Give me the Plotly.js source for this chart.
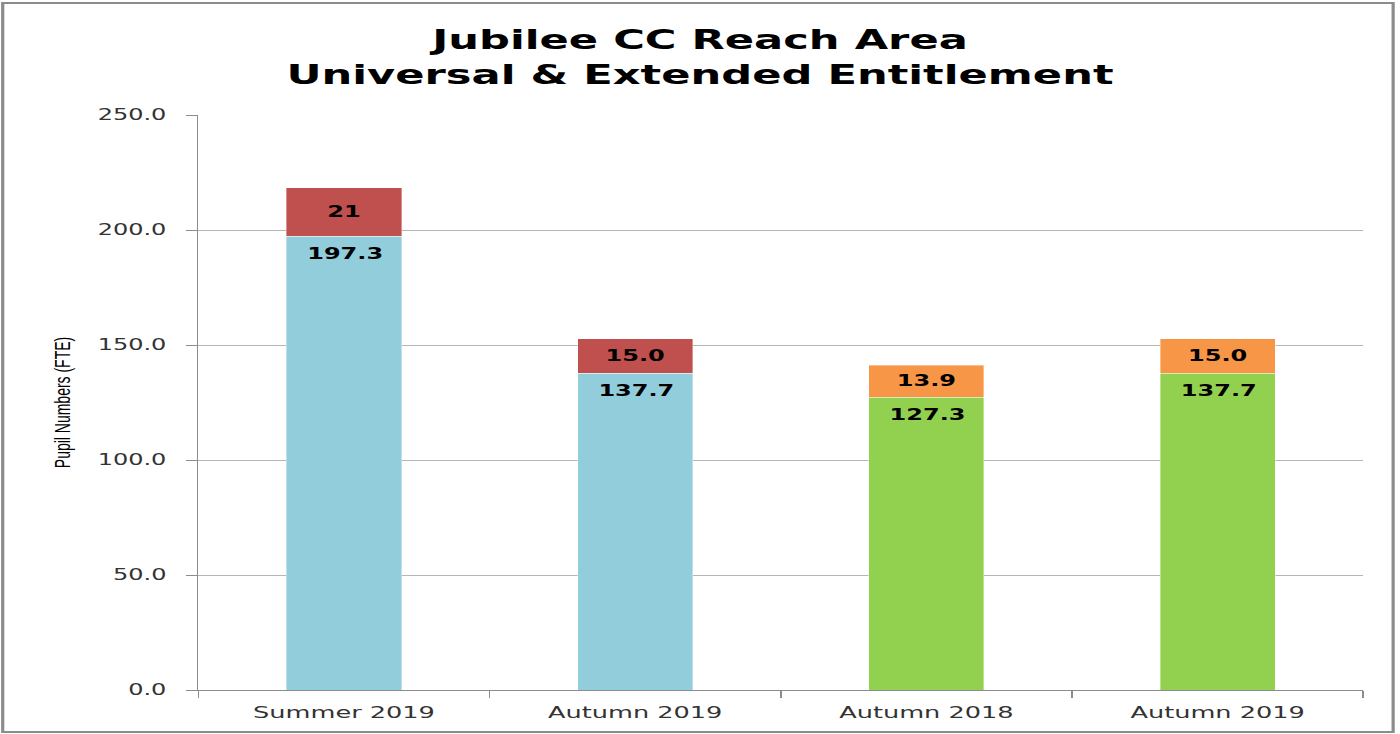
<!DOCTYPE html>
<html>
<head>
<meta charset="utf-8">
<script src="https://cdn.plot.ly/plotly-3.0.1.min.js"></script>
<style>
  body { margin: 0; overflow: hidden; background: #fff; }
  /* the reference is a stretched office chart, so draw narrow and widen */
  #chart { width: 875px; height: 734px; transform: scaleX(1.6); transform-origin: 0 0; }
</style>
</head>
<body>
<div id="chart"></div>
<script>
var categories = ['Summer 2019', 'Autumn 2019', 'Autumn 2018', 'Autumn 2019'];
var baseValues = [197.3, 137.7, 127.3, 137.7];
var extraValues = [21, 15.0, 13.9, 15.0];
var baseLabels = ['197.3', '137.7', '127.3', '137.7'];
var extraLabels = ['21', '15.0', '13.9', '15.0'];
var baseColors = ['#92CDDC', '#92CDDC', '#92D050', '#92D050'];
var extraColors = ['#C0504D', '#C0504D', '#F79646', '#F79646'];

var pos = [0, 1, 2, 3];

var labelFont = { family: 'DejaVu Sans, Verdana, sans-serif', size: 15, color: '#000', weight: 'bold' };

var base = {
  type: 'bar',
  x: pos,
  y: baseValues,
  marker: { color: baseColors, line: { color: 'rgba(255,255,255,0.6)', width: 0.5 } },
  hoverinfo: 'skip'
};

var extra = {
  type: 'bar',
  x: pos,
  y: extraValues,
  text: extraLabels,
  textposition: 'inside',
  insidetextanchor: 'middle',
  textangle: 0,
  constraintext: 'none',
  textfont: labelFont,
  marker: { color: extraColors, line: { color: 'rgba(255,255,255,0.6)', width: 0.5 } },
  hoverinfo: 'skip'
};

// lower segment labels sit a little below the segment top
var baseNotes = pos.map(function (p, i) {
  return {
    x: p, y: baseValues[i], xref: 'x', yref: 'y',
    text: baseLabels[i], showarrow: false,
    yanchor: 'middle', yshift: -18,
    font: labelFont
  };
});

var layout = {
  width: 875,
  height: 734,
  margin: { l: 124, r: 23, t: 115, b: 44 },
  barmode: 'stack',
  bargap: 0.605,
  showlegend: false,
  paper_bgcolor: '#fff',
  plot_bgcolor: '#fff',
  title: {
    text: 'Jubilee CC Reach Area<br>Universal & Extended Entitlement',
    font: { family: 'DejaVu Sans, Verdana, sans-serif', size: 27, color: '#000', weight: 'bold' },
    x: 0.5,
    xref: 'container',
    y: 0.933,
    yref: 'container',
    yanchor: 'middle'
  },
  xaxis: {
    range: [-0.5, 3.5],
    tickmode: 'array',
    tickvals: pos,
    ticktext: categories,
    ticks: '',
    showgrid: false,
    zeroline: false,
    showline: true,
    linecolor: '#8c8c8c',
    linewidth: 1,
    ticklabelstandoff: 8,
    tickfont: { family: 'DejaVu Sans, Verdana, sans-serif', size: 16, color: '#333' },
    minor: { ticks: 'outside', tick0: -0.5, dtick: 1, ticklen: 7, tickcolor: '#8c8c8c', tickwidth: 1, showgrid: false }
  },
  yaxis: {
    range: [0, 250],
    dtick: 50,
    tickformat: '.1f',
    ticks: 'outside',
    ticklen: 7,
    tickcolor: '#8c8c8c',
    showline: true,
    linecolor: '#8c8c8c',
    linewidth: 1,
    gridcolor: '#b5b5b5',
    zeroline: false,
    ticklabelstandoff: 9,
    tickfont: { family: 'DejaVu Sans, Verdana, sans-serif', size: 15, color: '#333' },
    title: {
      text: 'Pupil Numbers (FTE)',
      font: { family: 'Liberation Sans, Arial, sans-serif', size: 14, color: '#000' },
      standoff: 13
    }
  },
  annotations: baseNotes,
  shapes: [{
    type: 'rect',
    xref: 'paper', yref: 'paper',
    x0: -0.168, x1: 1.0257, y0: -0.073, y1: 1.195,
    line: { color: '#8c8c8c', width: 2 },
    fillcolor: 'rgba(0,0,0,0)'
  }]
};

Plotly.newPlot('chart', [base, extra], layout, { staticPlot: true, displayModeBar: false });
</script>
</body>
</html>
